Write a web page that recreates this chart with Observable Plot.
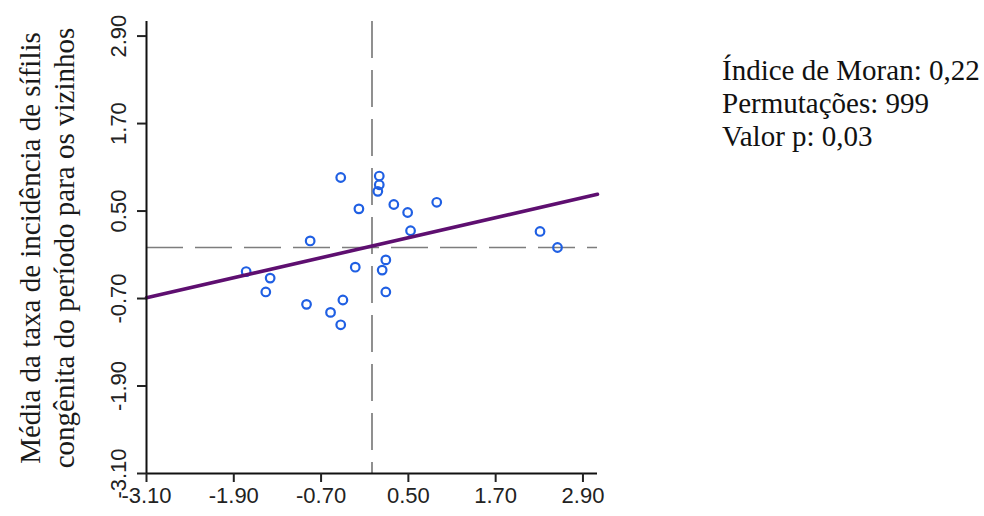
<!DOCTYPE html>
<html>
<head>
<meta charset="utf-8">
<script src="https://cdn.jsdelivr.net/npm/d3@7"></script>
<script src="https://cdn.jsdelivr.net/npm/@observablehq/plot@0.6"></script>
<style>
  html, body { margin: 0; padding: 0; background: #fff; }
  #wrap { position: relative; width: 984px; height: 516px; overflow: hidden; }
  #ylab {
    position: absolute; left: 47px; top: 248px;
    transform: translate(-50%, -50%) rotate(-90deg);
    font-family: "Liberation Serif", serif; font-size: 29px; line-height: 34px;
    white-space: nowrap; text-align: center; color: #1a1a1a;
  }
  #stats {
    position: absolute; left: 722px; top: 54px;
    font-family: "Liberation Serif", serif; font-size: 29px; line-height: 33px;
    white-space: nowrap; color: #111;
  }
</style>
</head>
<body>
<div id="wrap">
  <div id="chart"></div>
  <div id="ylab"></div>
  <div id="stats"></div>
</div>
<script>
// Standardized rate (x) vs spatially lagged mean of neighbours (y)
const xValues = [-0.43, 0.10, 0.10, 0.08, -0.18, 0.30, 0.49, 0.89, 0.53, -0.85, -1.73, -1.40, -1.46, -0.23, 0.19, 0.14, 0.19, -0.90, -0.40, -0.57, -0.43, 2.31, 2.55];
const yValues = [0.96, 0.98, 0.86, 0.77, 0.53, 0.59, 0.48, 0.62, 0.23, 0.09, -0.33, -0.42, -0.61, -0.27, -0.17, -0.31, -0.61, -0.78, -0.72, -0.89, -1.06, 0.22, 0.00];
const fitX = [-3.1, 3.1];
const fitY = [-0.69, 0.73];
const xTicks = [-3.1, -1.9, -0.7, 0.5, 1.7, 2.9];
const yTicks = [-3.1, -1.9, -0.7, 0.5, 1.7, 2.9];
const yLabelLines = ["Média da taxa de incidência de sífilis", "congênita do período para os vizinhos"];
const statsLines = ["Índice de Moran: 0,22", "Permutações: 999", "Valor p: 0,03"];

const points = xValues.map((x, i) => ({x, y: yValues[i]}));
const fit = fitX.map((x, i) => ({x, y: fitY[i]}));
const fmt = d => d.toFixed(2);

const chart = Plot.plot({
  width: 984,
  height: 516,
  marginLeft: 146,
  marginRight: 387,
  marginTop: 21,
  marginBottom: 43,
  style: {fontFamily: "'Liberation Sans', Arial, sans-serif", fontSize: "22px", color: "#222", background: "#fff"},
  x: {domain: [-3.1, 3.1]},
  y: {domain: [-3.1, 3.1]},
  marks: [
    Plot.ruleY([0], {stroke: "#7d7d7d", strokeWidth: 1.7, strokeDasharray: "37,12"}),
    Plot.ruleX([0], {stroke: "#7d7d7d", strokeWidth: 1.7, strokeDasharray: "37,12"}),
    Plot.dot(points, {x: "x", y: "y", r: 4.3, stroke: "#1f5fe3", strokeWidth: 2.2, fill: "none"}),
    Plot.line(fit, {x: "x", y: "y", stroke: "#5e0f70", strokeWidth: 3.6}),
    Plot.ruleY([-3.1], {stroke: "#111", strokeWidth: 2}),
    Plot.ruleX([-3.1], {stroke: "#111", strokeWidth: 2}),
    Plot.axisX({ticks: xTicks, tickFormat: fmt, tickSize: 9, tickPadding: 5, strokeWidth: 2, label: null, fontSize: 22}),
    Plot.axisY({ticks: yTicks, tickFormat: () => "", tickSize: 9, strokeWidth: 2, label: null}),
    Plot.text(yTicks, {x: -3.1, y: d => d, text: fmt, rotate: -90, dx: -28, fontSize: 22, textAnchor: "middle", lineAnchor: "middle"})
  ]
});
document.getElementById("chart").appendChild(chart);
document.getElementById("ylab").innerHTML = yLabelLines.join("<br>");
document.getElementById("stats").innerHTML = statsLines.join("<br>");
</script>
</body>
</html>
